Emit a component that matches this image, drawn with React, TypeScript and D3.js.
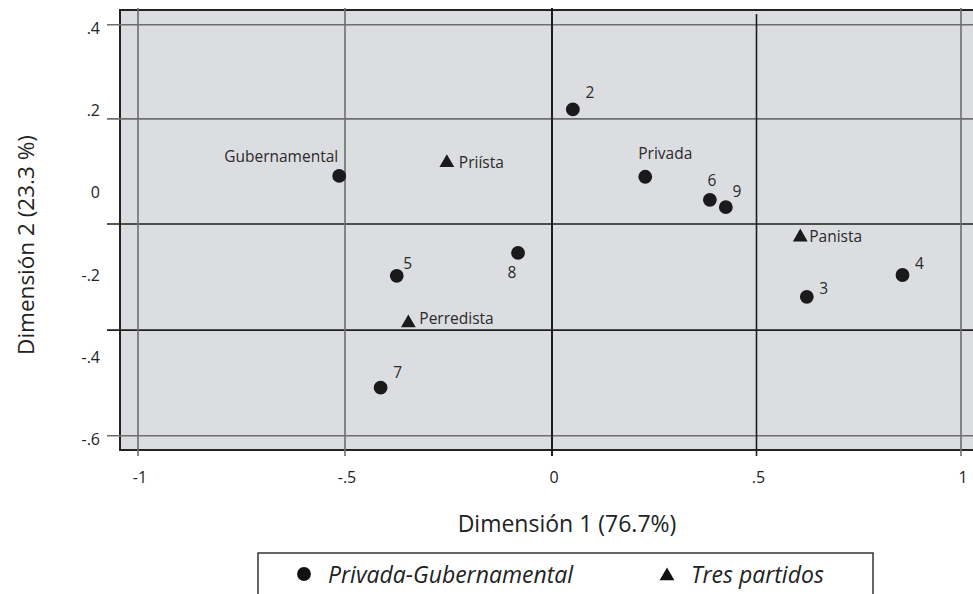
import * as d3 from "d3";

// correspondence analysis coordinates (dim 1, dim 2)
const pointNames = ["2", "Privada", "6", "9", "Gubernamental", "5", "8", "7", "3", "4"];
const pointDim1 = [0.051, 0.228, 0.386, 0.425, -0.514, -0.375, -0.082, -0.414, 0.623, 0.857];
const pointDim2 = [0.202, 0.038, -0.018, -0.036, 0.04, -0.203, -0.147, -0.475, -0.254, -0.201];

const partyNames = ["Priísta", "Perredista", "Panista"];
const partyDim1 = [-0.254, -0.347, 0.607];
const partyDim2 = [0.077, -0.313, -0.104];

const xTicks = [-1, -0.5, 0, 0.5, 1];
const xTickLabels = ["-1", "-.5", "0", ".5", "1"];
const yTicks = [0.4, 0.2, 0, -0.2, -0.4, -0.6];
const yTickLabels = [".4", ".2", "0", "-.2", "-.4", "-.6"];
// reference lines as drawn in the figure
const yGridAt = [0.408, 0.179, -0.077, -0.335, -0.592];
const legendLabels = ["Privada-Gubernamental", "Tres partidos"];

const W = 973;
const H = 594;
const FONT = "'Open Sans', 'DejaVu Sans', sans-serif";

// label placement (pixels from marker)
const labelPos: Record<string, { dx: number; dy: number; anchor: string }> = {
  "2": { dx: 17, dy: -17, anchor: "middle" },
  Privada: { dx: 20, dy: -24, anchor: "middle" },
  "6": { dx: 2, dy: -20, anchor: "middle" },
  "9": { dx: 11, dy: -16, anchor: "middle" },
  Gubernamental: { dx: -1, dy: -20, anchor: "end" },
  "5": { dx: 11, dy: -13, anchor: "middle" },
  "8": { dx: -6, dy: 19, anchor: "middle" },
  "7": { dx: 17, dy: -16, anchor: "middle" },
  "3": { dx: 17, dy: -9, anchor: "middle" },
  "4": { dx: 17, dy: -12, anchor: "middle" },
  Priísta: { dx: 12, dy: 1, anchor: "start" },
  Perredista: { dx: 11, dy: -3, anchor: "start" },
  Panista: { dx: 9, dy: 1, anchor: "start" },
};

export default function App() {
  const plot = { left: 120, top: 10, bottom: 450, right: 995 };

  const x = d3.scaleLinear().domain([-1, 0, 1]).range([138, 552, 961]);
  const y = d3.scaleLinear().domain([-0.6, 0.4]).range([439, 28]);

  const circle = d3.symbol().type(d3.symbolCircle).size(150)() as string;
  const triangle = d3.symbol().type(d3.symbolTriangle).size(95)() as string;

  const darkX = new Set([0, 0.5]);
  const darkY = new Set([-0.077, -0.335]);

  return (
    <svg
      width={W}
      height={H}
      style={{ position: "absolute", left: 0, top: 0, background: "#fff" }}
      fontFamily={FONT}
    >
      <rect
        x={plot.left}
        y={plot.top}
        width={plot.right - plot.left}
        height={plot.bottom - plot.top}
        fill="#dcdde0"
        stroke="#222"
        strokeWidth={2}
      />

      {/* horizontal reference lines with ticks */}
      {yGridAt.map((v) => (
        <line
          key={"h" + v}
          x1={107}
          x2={plot.right}
          y1={y(v)}
          y2={y(v)}
          stroke={darkY.has(v) ? "#1e1e1e" : "#6e6e6e"}
          strokeWidth={1.6}
        />
      ))}

      {/* vertical reference lines with ticks */}
      {xTicks.map((v) => (
        <line
          key={"v" + v}
          x1={x(v)}
          x2={x(v)}
          y1={v === 0.5 ? 14 : 8}
          y2={456}
          stroke={darkX.has(v) ? "#1e1e1e" : "#6e6e6e"}
          strokeWidth={v === 0 ? 2 : 1.6}
        />
      ))}

      {/* y tick labels */}
      {yTicks.map((v, i) => (
        <text
          key={"yt" + v}
          x={100}
          y={y(v)}
          textAnchor="end"
          dominantBaseline="central"
          fontSize={16}
          fill="#222"
        >
          {yTickLabels[i]}
        </text>
      ))}

      {/* x tick labels */}
      {xTicks.map((v, i) => (
        <text
          key={"xt" + v}
          x={x(v) + 2}
          y={477}
          textAnchor="middle"
          dominantBaseline="central"
          fontSize={16}
          fill="#222"
        >
          {xTickLabels[i]}
        </text>
      ))}

      {/* axis titles */}
      <text x={567} y={523} textAnchor="middle" dominantBaseline="central" fontSize={23} fill="#222">
        Dimensión 1 (76.7%)
      </text>
      <text
        transform={`translate(25,245) rotate(-90)`}
        textAnchor="middle"
        dominantBaseline="central"
        fontSize={22.5}
        fill="#222"
      >
        Dimensión 2 (23.3 %)
      </text>

      {/* circle points */}
      {pointNames.map((name, i) => {
        const px = x(pointDim1[i]);
        const py = y(pointDim2[i]);
        const lp = labelPos[name];
        return (
          <g key={"p" + name}>
            <path d={circle} transform={`translate(${px},${py})`} fill="#1a1a1a" />
            <text
              x={px + lp.dx}
              y={py + lp.dy}
              textAnchor={lp.anchor}
              dominantBaseline="central"
              fontSize={15.5}
              fill="#2a2a2a"
            >
              {name}
            </text>
          </g>
        );
      })}

      {/* party triangles */}
      {partyNames.map((name, i) => {
        const px = x(partyDim1[i]);
        const py = y(partyDim2[i]);
        const lp = labelPos[name];
        return (
          <g key={"t" + name}>
            <path d={triangle} transform={`translate(${px},${py + 2})`} fill="#1a1a1a" />
            <text
              x={px + lp.dx}
              y={py + lp.dy}
              textAnchor={lp.anchor}
              dominantBaseline="central"
              fontSize={15.5}
              fill="#2a2a2a"
            >
              {name}
            </text>
          </g>
        );
      })}

      {/* legend */}
      <rect x={258} y={553} width={615} height={60} fill="#fff" stroke="#333" strokeWidth={1.5} />
      {legendLabels.map((lab, i) => {
        const sx = i === 0 ? 304 : 667;
        return (
          <g key={"lg" + lab}>
            <path d={i === 0 ? circle : triangle} transform={`translate(${sx},${i === 0 ? 574 : 576})`} fill="#111" />
            <text
              x={sx + 24}
              y={574}
              dominantBaseline="central"
              fontSize={23}
              fontStyle="italic"
              fill="#222"
            >
              {lab}
            </text>
          </g>
        );
      })}
    </svg>
  );
}
